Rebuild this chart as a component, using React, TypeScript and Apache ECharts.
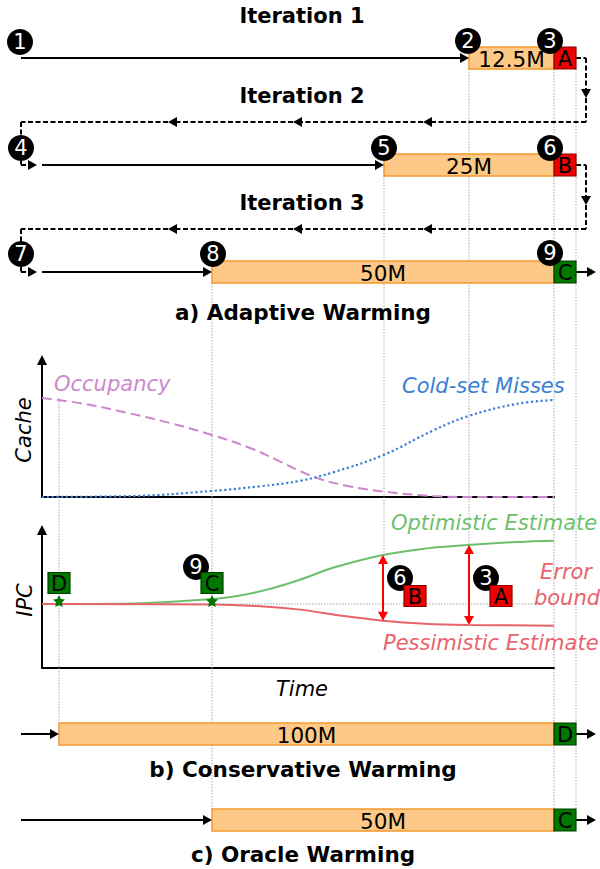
import React, { useEffect, useRef } from 'react';
import * as echarts from 'echarts';

// ---------- Diagram data (diagram units) ----------
const bars = [
  [469, 554, 58],
  [384, 554, 165],
  [212, 554, 272],
  [59, 554, 734],
  [212, 554, 820],
];
const barLabels = ['12.5M', '25M', '50M', '100M', '50M'];

const endBoxes = [
  [554, 576, 58],
  [554, 576, 165],
  [554, 576, 272],
  [554, 576, 734],
  [554, 576, 820],
];
const endLetters = ['A', 'B', 'C', 'D', 'C'];
const endKinds = ['bad', 'bad', 'good', 'good', 'good'];

const markers = [
  [20, 42], [468, 41], [550, 41],
  [21, 148], [384, 148], [550, 148],
  [21, 254], [213, 254], [550, 253],
  [196, 567], [400, 578], [486, 578],
];
const markerNums = ['1', '2', '3', '4', '5', '6', '7', '8', '9', '9', '6', '3'];

const ipcBoxes = [[59, 583], [212, 583], [415, 596], [501, 596]];
const ipcLetters = ['D', 'C', 'B', 'A'];
const ipcKinds = ['good', 'good', 'bad', 'bad'];
const stars = [[59, 601], [212, 601]];

const solidArrows = [
  [21, 58, 469, 58],
  [42, 165, 384, 165],
  [42, 272, 212, 272],
  [576, 272, 596, 272],
  [21, 734, 59, 734],
  [576, 734, 596, 734],
  [21, 820, 212, 820],
  [576, 820, 596, 820],
];

const dashedSegments = [
  [576, 58, 586, 58, 0], [586, 58, 586, 98, 1], [586, 98, 586, 122, 0],
  [586, 122, 423, 122, 1], [423, 122, 293, 122, 1], [293, 122, 168, 122, 1],
  [168, 122, 21, 122, 0], [21, 122, 21, 165, 0], [21, 165, 37, 165, 1],
  [576, 165, 586, 165, 0], [586, 165, 586, 205, 1], [586, 205, 586, 229, 0],
  [586, 229, 423, 229, 1], [423, 229, 293, 229, 1], [293, 229, 168, 229, 1],
  [168, 229, 21, 229, 0], [21, 229, 21, 272, 0], [21, 272, 37, 272, 1],
];

const guides = [
  [59, 398, 723],
  [212, 283, 809],
  [384, 176, 555],
  [469, 69, 545],
  [554, 69, 809],
  [576, 69, 809],
];

// ---------- Curve data (time vs. %) ----------
const occupancy = [
  [42, 72.3], [85, 67.9], [128, 61.3], [170, 54.0], [212, 45.3], [250, 35.8],
  [275, 27.7], [300, 19.0], [320, 13.1], [350, 7.7], [384, 3.9], [433, 0.7],
  [469, 0], [554, 0],
];
const coldMisses = [
  [42, 0], [133, 0.7], [212, 4.4], [260, 7.8], [300, 11.8], [333, 18.0],
  [383, 30.5], [433, 48.5], [468, 59.0], [517, 68.0], [554, 70.8],
];
const optimistic = [
  [42, 46.4], [133, 46.8], [212, 50.0], [240, 52.6], [267, 56.8], [300, 64.0],
  [333, 72.6], [383, 81.9], [425, 86.5], [468, 89.1], [517, 91.3], [554, 92.2],
];
const pessimistic = [
  [42, 46.4], [212, 46.1], [260, 44.8], [300, 42.3], [340, 38.0], [383, 34.3],
  [425, 32.1], [468, 31.2], [554, 30.7],
];
const baseline = [[42, 46.4], [535, 46.4]];
const errorBounds = [
  [383, 81.9, 34.3],
  [469, 89.1, 31.2],
];

// ---------- Styles ----------
const FONT = 'DejaVu Sans';
const BAR_FILL = '#fec986';
const BAR_STROKE = '#f29a2e';
const BAD_FILL = '#ee0000';
const BAD_STROKE = '#8a0000';
const GOOD_FILL = '#007800';
const GOOD_STROKE = '#003c00';
const PLUM = '#cc88cc';
const BLUE = '#3a7fd6';
const GREEN = '#6cc06c';
const RED = '#e8636c';

function arrowEls(p1: number[], p2: number[], headEnd: boolean, headStart: boolean, color: string, width: number, dash: any, hl = 9, hw = 5) {
  const dx = p2[0] - p1[0];
  const dy = p2[1] - p1[1];
  const L = Math.hypot(dx, dy) || 1;
  const ux = dx / L;
  const uy = dy / L;
  const a = [p1[0], p1[1]];
  const b = [p2[0], p2[1]];
  const els: any[] = [];
  if (headEnd) {
    const bx = p2[0] - ux * hl;
    const by = p2[1] - uy * hl;
    b[0] = p2[0] - ux * (hl - 1);
    b[1] = p2[1] - uy * (hl - 1);
    els.push({
      type: 'polygon',
      shape: { points: [[p2[0], p2[1]], [bx - uy * hw, by + ux * hw], [bx + uy * hw, by - ux * hw]] },
      style: { fill: color },
    });
  }
  if (headStart) {
    const bx = p1[0] + ux * hl;
    const by = p1[1] + uy * hl;
    a[0] = p1[0] + ux * (hl - 1);
    a[1] = p1[1] + uy * (hl - 1);
    els.push({
      type: 'polygon',
      shape: { points: [[p1[0], p1[1]], [bx - uy * hw, by + ux * hw], [bx + uy * hw, by - ux * hw]] },
      style: { fill: color },
    });
  }
  els.unshift({
    type: 'line',
    shape: { x1: a[0], y1: a[1], x2: b[0], y2: b[1] },
    style: { stroke: color, lineWidth: width, lineDash: dash, fill: null },
  });
  return els;
}

function txt(text: string, x: number, y: number, o: any = {}) {
  return {
    type: 'text',
    x,
    y,
    rotation: o.rot || 0,
    z: 20,
    style: {
      text,
      fill: o.color || '#000',
      fontSize: o.size || 21,
      fontWeight: o.bold ? 'bold' : 'normal',
      fontStyle: o.italic ? 'italic' : 'normal',
      fontFamily: FONT,
      align: o.align || 'center',
      verticalAlign: 'middle',
    },
  };
}

function boxEls(cx: number, cy: number, w: number, h: number, letter: string, kind: string) {
  return [
    {
      type: 'rect',
      shape: { x: cx - w / 2, y: cy - h / 2, width: w, height: h },
      style: { fill: kind === 'bad' ? BAD_FILL : GOOD_FILL, stroke: kind === 'bad' ? BAD_STROKE : GOOD_STROKE, lineWidth: 1.2 },
    },
    {
      type: 'text',
      style: { text: letter, x: cx, y: cy + 1, align: 'center', verticalAlign: 'middle', fontSize: 21, fontFamily: FONT, fill: '#000' },
    },
  ];
}

const axisStyle = (arrow: boolean) => ({
  show: true,
  onZero: false,
  lineStyle: { color: '#000', width: 2 },
  symbol: arrow ? ['none', 'triangle'] : ['none', 'none'],
  symbolSize: [10, 10],
});

function buildOption(): any {
  const d0 = { xAxisIndex: 0, yAxisIndex: 0, coordinateSystem: 'cartesian2d' };
  return {
    animation: false,
    backgroundColor: '#fff',
    grid: [
      { left: 0, top: 0, width: 600, height: 869 },
      { left: 42, top: 360, width: 512, height: 137 },
      { left: 42, top: 530, width: 512, height: 138 },
    ],
    xAxis: [
      { gridIndex: 0, type: 'value', min: 0, max: 600, show: false },
      { gridIndex: 1, type: 'value', min: 42, max: 554, axisLine: axisStyle(false), axisTick: { show: false }, axisLabel: { show: false }, splitLine: { show: false } },
      { gridIndex: 2, type: 'value', min: 42, max: 554, axisLine: axisStyle(false), axisTick: { show: false }, axisLabel: { show: false }, splitLine: { show: false } },
    ],
    yAxis: [
      { gridIndex: 0, type: 'value', min: 0, max: 869, inverse: true, show: false },
      { gridIndex: 1, type: 'value', min: 0, max: 100, axisLine: axisStyle(true), axisTick: { show: false }, axisLabel: { show: false }, splitLine: { show: false } },
      { gridIndex: 2, type: 'value', min: 0, max: 100, axisLine: axisStyle(true), axisTick: { show: false }, axisLabel: { show: false }, splitLine: { show: false } },
    ],
    graphic: {
      elements: [
        txt('Iteration 1', 302, 16, { bold: true }),
        txt('Iteration 2', 302, 96, { bold: true }),
        txt('Iteration 3', 302, 203, { bold: true }),
        txt('a) Adaptive Warming', 303, 312, { bold: true, size: 21.5 }),
        txt('b) Conservative Warming', 303, 769, { bold: true, size: 21.5 }),
        txt('c) Oracle Warming', 303, 854, { bold: true, size: 21.5 }),
        txt('Occupancy', 54, 384, { italic: true, color: PLUM, align: 'left' }),
        txt('Cold-set Misses', 402, 386, { italic: true, color: BLUE, align: 'left' }),
        txt('Cache', 24, 430, { italic: true, rot: Math.PI / 2 }),
        txt('IPC', 25, 600, { italic: true, rot: Math.PI / 2 }),
        txt('Time', 302, 689, { italic: true }),
        txt('Optimistic Estimate', 391, 523, { italic: true, color: GREEN, align: 'left' }),
        txt('Error', 566, 572, { italic: true, color: RED }),
        txt('bound', 567, 598, { italic: true, color: RED }),
        txt('Pessimistic Estimate', 383, 643, { italic: true, color: RED, align: 'left' }),
      ],
    },
    series: [
      {
        type: 'custom', name: 'guides', ...d0, z: 1, clip: false, silent: true,
        data: guides,
        renderItem: (p: any, api: any) => {
          const a = api.coord([api.value(0), api.value(1)]);
          const b = api.coord([api.value(0), api.value(2)]);
          return { type: 'line', shape: { x1: a[0], y1: a[1], x2: b[0], y2: b[1] }, style: { stroke: '#a8a8a8', lineWidth: 1, lineDash: [1.5, 1.5] } };
        },
      },
      {
        type: 'line', name: 'Occupancy', xAxisIndex: 1, yAxisIndex: 1, data: occupancy, smooth: 0.4,
        showSymbol: false, symbol: 'none', z: 3, lineStyle: { color: PLUM, width: 2, type: [10, 5] },
      },
      {
        type: 'line', name: 'Cold-set Misses', xAxisIndex: 1, yAxisIndex: 1, data: coldMisses, smooth: 0.4,
        showSymbol: false, symbol: 'none', z: 3, lineStyle: { color: BLUE, width: 2.2, type: [2.2, 2.6] },
      },
      {
        type: 'line', name: 'baseline', xAxisIndex: 2, yAxisIndex: 2, data: baseline,
        showSymbol: false, symbol: 'none', z: 2, lineStyle: { color: '#a8a8a8', width: 1, type: [1.5, 1.5] },
      },
      {
        type: 'line', name: 'Optimistic Estimate', xAxisIndex: 2, yAxisIndex: 2, data: optimistic, smooth: 0.4,
        showSymbol: false, symbol: 'none', z: 3, lineStyle: { color: GREEN, width: 2 },
      },
      {
        type: 'line', name: 'Pessimistic Estimate', xAxisIndex: 2, yAxisIndex: 2, data: pessimistic, smooth: 0.4,
        showSymbol: false, symbol: 'none', z: 3, lineStyle: { color: RED, width: 2 },
      },
      {
        type: 'custom', name: 'error bound', coordinateSystem: 'cartesian2d', xAxisIndex: 2, yAxisIndex: 2, z: 5, clip: false,
        data: errorBounds,
        renderItem: (p: any, api: any) => {
          const a = api.coord([api.value(0), api.value(1)]);
          const b = api.coord([api.value(0), api.value(2)]);
          return { type: 'group', children: arrowEls(a, b, true, true, '#ff0000', 2, null, 9, 5) };
        },
      },
      {
        type: 'custom', name: 'bars', ...d0, z: 4, clip: false,
        data: bars,
        renderItem: (p: any, api: any) => {
          const s = api.coord([api.value(0), api.value(2)]);
          const e = api.coord([api.value(1), api.value(2)]);
          const h = 22;
          return {
            type: 'group',
            children: [
              { type: 'rect', shape: { x: s[0], y: s[1] - h / 2, width: e[0] - s[0], height: h }, style: { fill: BAR_FILL, stroke: BAR_STROKE, lineWidth: 1.5 } },
              { type: 'text', style: { text: barLabels[p.dataIndex], x: (s[0] + e[0]) / 2, y: s[1] + 1, align: 'center', verticalAlign: 'middle', fontSize: 21.5, fontFamily: FONT, fill: '#000' } },
            ],
          };
        },
      },
      {
        type: 'custom', name: 'end boxes', ...d0, z: 5, clip: false,
        data: endBoxes,
        renderItem: (p: any, api: any) => {
          const s = api.coord([api.value(0), api.value(2)]);
          const e = api.coord([api.value(1), api.value(2)]);
          return { type: 'group', children: boxEls((s[0] + e[0]) / 2, s[1], e[0] - s[0], 22, endLetters[p.dataIndex], endKinds[p.dataIndex]) };
        },
      },
      {
        type: 'custom', name: 'solid arrows', ...d0, z: 4, clip: false,
        data: solidArrows,
        renderItem: (p: any, api: any) => {
          const a = api.coord([api.value(0), api.value(1)]);
          const b = api.coord([api.value(2), api.value(3)]);
          return { type: 'group', children: arrowEls(a, b, true, false, '#000', 2, null) };
        },
      },
      {
        type: 'custom', name: 'dashed arrows', ...d0, z: 4, clip: false,
        data: dashedSegments,
        renderItem: (p: any, api: any) => {
          const a = api.coord([api.value(0), api.value(1)]);
          const b = api.coord([api.value(2), api.value(3)]);
          return { type: 'group', children: arrowEls(a, b, api.value(4) === 1, false, '#000', 2, [5, 2.5]) };
        },
      },
      {
        type: 'scatter', name: 'steps', ...d0, z: 6, clip: false,
        symbol: 'circle', symbolSize: 26,
        itemStyle: { color: '#000', opacity: 1 },
        data: markers.map((m, i) => ({ value: m, name: markerNums[i] })),
        label: { show: true, position: 'inside', formatter: '{b}', color: '#fff', fontSize: 21, fontFamily: FONT, textBorderWidth: 0 },
      },
      {
        type: 'custom', name: 'ipc boxes', ...d0, z: 7, clip: false,
        data: ipcBoxes,
        renderItem: (p: any, api: any) => {
          const c = api.coord([api.value(0), api.value(1)]);
          return { type: 'group', children: boxEls(c[0], c[1], 22, 21, ipcLetters[p.dataIndex], ipcKinds[p.dataIndex]) };
        },
      },
      {
        type: 'scatter', name: 'stars', ...d0, z: 7, clip: false,
        symbol: 'path://M0,-10 L2.9,-4 9.5,-3.1 4.7,1.5 5.9,8.1 0,5 -5.9,8.1 -4.7,1.5 -9.5,-3.1 -2.9,-4 Z',
        symbolSize: 12,
        itemStyle: { color: GOOD_FILL, opacity: 1 },
        data: stars,
      },
    ],
  };
}

export default function App() {
  const ref = useRef<HTMLDivElement>(null);
  useEffect(() => {
    const chart = echarts.init(ref.current as HTMLDivElement, null, { renderer: 'svg' });
    chart.setOption(buildOption());
    return () => chart.dispose();
  }, []);
  return (
    <div
      ref={ref}
      style={{ position: 'fixed', left: 0, top: 0, width: 600, height: 869, background: '#fff' }}
    />
  );
}
